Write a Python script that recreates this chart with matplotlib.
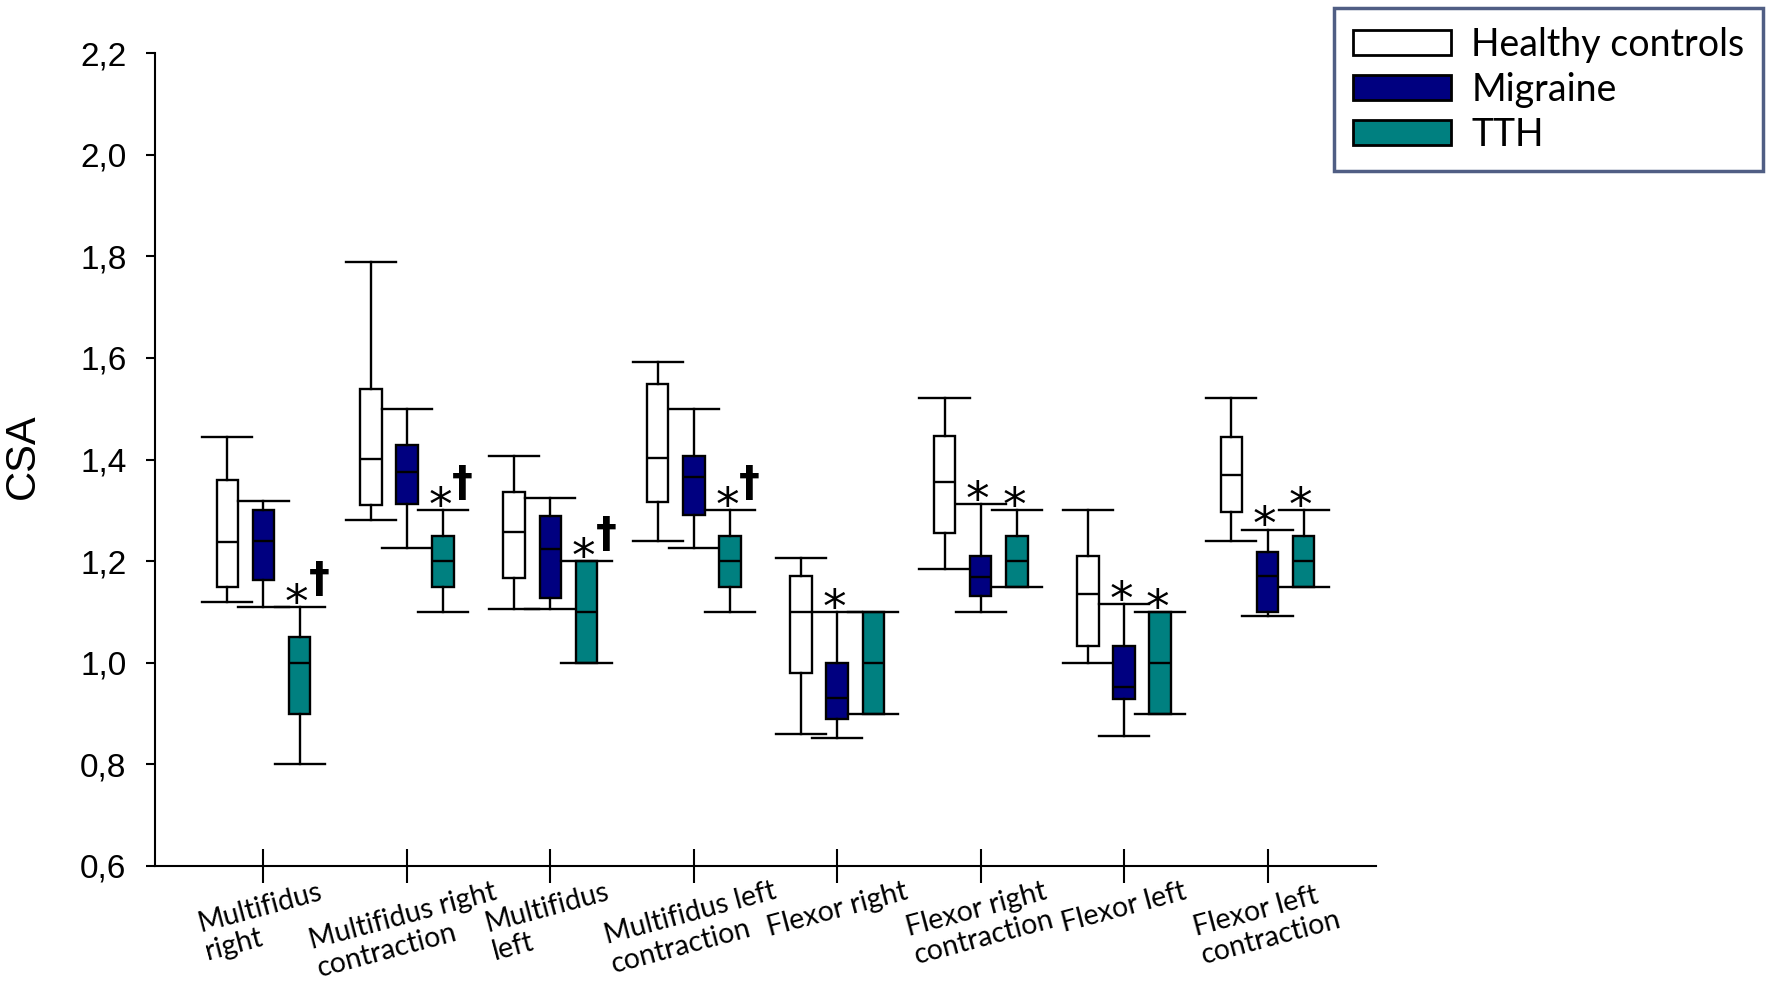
import numpy as np
import matplotlib
matplotlib.use("Agg")
import matplotlib.pyplot as plt
from matplotlib.patches import Patch

# muscle sites (x categories)
sites = ["Multifidus\nright", "Multifidus right\ncontraction", "Multifidus\nleft",
         "Multifidus left\ncontraction", "Flexor right", "Flexor right\ncontraction",
         "Flexor left", "Flexor left\ncontraction"]
groups = ["Healthy controls", "Migraine", "TTH"]
colors = ["#ffffff", "#000080", "#008080"]

# box stats per group: lower whisker, q1, median, q3, upper whisker
hc_lo  = [1.12, 1.28, 1.105, 1.24, 0.86, 1.185, 1.00, 1.24]
hc_q1  = [1.15, 1.31, 1.167, 1.316, 0.98, 1.255, 1.032, 1.297]
hc_med = [1.238, 1.402, 1.258, 1.403, 1.10, 1.355, 1.136, 1.37]
hc_q3  = [1.36, 1.538, 1.336, 1.549, 1.171, 1.446, 1.21, 1.445]
hc_hi  = [1.444, 1.789, 1.407, 1.592, 1.206, 1.522, 1.30, 1.522]

mig_lo  = [1.11, 1.226, 1.106, 1.226, 0.851, 1.10, 0.856, 1.092]
mig_q1  = [1.163, 1.312, 1.128, 1.29, 0.89, 1.132, 0.928, 1.10]
mig_med = [1.239, 1.375, 1.223, 1.365, 0.93, 1.169, 0.952, 1.17]
mig_q3  = [1.30, 1.429, 1.288, 1.406, 1.00, 1.211, 1.032, 1.218]
mig_hi  = [1.319, 1.499, 1.324, 1.50, 1.10, 1.312, 1.115, 1.262]

tth_lo  = [0.80, 1.10, 1.00, 1.10, 0.90, 1.15, 0.90, 1.15]
tth_q1  = [0.90, 1.15, 1.00, 1.15, 0.90, 1.15, 0.90, 1.15]
tth_med = [1.00, 1.20, 1.10, 1.20, 1.00, 1.20, 1.00, 1.20]
tth_q3  = [1.05, 1.25, 1.20, 1.25, 1.10, 1.25, 1.10, 1.25]
tth_hi  = [1.11, 1.30, 1.20, 1.30, 1.10, 1.30, 1.10, 1.30]

# significance marks (* vs controls, † vs migraine)
mig_marks = ["", "", "", "", "*", "*", "*", "*"]
tth_marks = ["*†", "*†", "*†", "*†", "", "*", "*", "*"]

yticks = [0.6, 0.8, 1.0, 1.2, 1.4, 1.6, 1.8, 2.0, 2.2]
ytick_labels = ["0,6", "0,8", "1,0", "1,2", "1,4", "1,6", "1,8", "2,0", "2,2"]

series = [
    (hc_lo, hc_q1, hc_med, hc_q3, hc_hi),
    (mig_lo, mig_q1, mig_med, mig_q3, mig_hi),
    (tth_lo, tth_q1, tth_med, tth_q3, tth_hi),
]

fig = plt.figure(figsize=(17.72, 9.84), dpi=100)
ax = fig.add_axes([0.0875, 0.120, 0.689, 0.826])

base = np.arange(len(sites))
offsets = [-0.252, 0.0, 0.252]
lw = 1.7

for (lo, q1, med, q3, hi), off, c in zip(series, offsets, colors):
    stats = [dict(whislo=lo[i], q1=q1[i], med=med[i], q3=q3[i], whishi=hi[i])
             for i in range(len(sites))]
    ax.bxp(stats, positions=base + off, widths=0.15, capwidths=0.35,
           patch_artist=True, showfliers=False, manage_ticks=False,
           boxprops=dict(facecolor=c, edgecolor="black", linewidth=lw),
           medianprops=dict(color="black", linewidth=lw),
           whiskerprops=dict(color="black", linewidth=lw),
           capprops=dict(color="black", linewidth=lw))


def mark(x, y, txt):
    if "*" in txt:
        ax.annotate("*", xy=(x, y), xytext=(-2, 2), textcoords="offset points",
                    ha="center", va="center", fontsize=34, family="DejaVu Sans")
    if "†" in txt:
        ax.annotate("†", xy=(x, y), xytext=(14, 19), textcoords="offset points",
                    ha="center", va="center", fontsize=30, fontweight="bold",
                    family="DejaVu Sans")


for i in range(len(sites)):
    mark(base[i] + offsets[1], mig_hi[i], mig_marks[i])
    mark(base[i] + offsets[2], tth_hi[i], tth_marks[i])

ax.set_xlim(-0.756, 7.756)
ax.set_ylim(0.6, 2.2)
ax.set_yticks(yticks)
ax.set_yticklabels(ytick_labels, family="Liberation Sans", fontsize=24)
ax.set_xticks(base)
ax.set_xticklabels(sites, rotation=15, ha="center", va="top", multialignment="left",
                   linespacing=1.15, family="Lato", fontsize=20.5)
ax.tick_params(axis="x", direction="inout", length=24, width=1.5, pad=-3)
ax.tick_params(axis="y", direction="out", length=6.5, width=1.5, pad=14)

for s in ("top", "right"):
    ax.spines[s].set_visible(False)
for s in ("left", "bottom"):
    ax.spines[s].set_linewidth(1.5)

fig.text(23 / 1772, 1 - 456 / 984, "CSA", rotation=90, ha="center", va="center",
         family="Liberation Sans", fontsize=30)

handles = [Patch(facecolor=c, edgecolor="black", linewidth=2) for c in colors]
leg = fig.legend(handles, groups, loc="upper right", bbox_to_anchor=(0.995, 0.992),
                 prop=dict(family="Lato", size=27), frameon=True, fancybox=False,
                 handlelength=2.6, handleheight=0.62, labelspacing=0.24,
                 handletextpad=0.55, borderpad=0.5, borderaxespad=0)
leg.get_frame().set_edgecolor("#243665")
leg.get_frame().set_linewidth(2.5)

fig.savefig("out.png", dpi=100)
